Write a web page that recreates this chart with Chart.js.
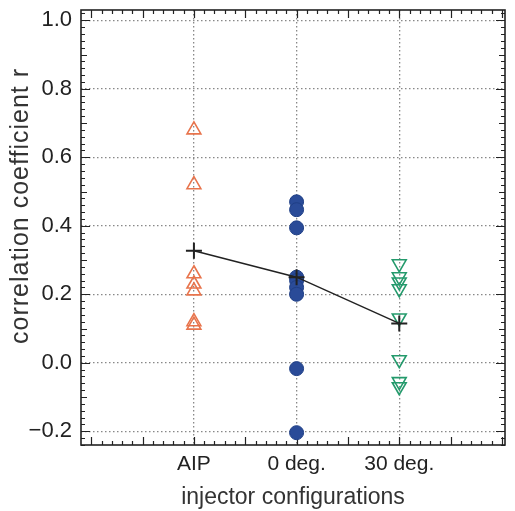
<!DOCTYPE html>
<html>
<head>
<meta charset="utf-8">
<script src="https://cdn.jsdelivr.net/npm/chart.js@4/dist/chart.umd.min.js"></script>
<style>
  html, body { margin: 0; padding: 0; background: #fff; }
  #wrap { width: 515px; height: 511px; }
</style>
</head>
<body>
<div id="wrap"><canvas id="grafico"></canvas></div>
<script>
// categorias no eixo x (posicoes 1, 2, 3)
const configs = ["AIP", "0 deg.", "30 deg."];

// valores
const aipValores = [0.68, 0.52, 0.26, 0.23, 0.21, 0.12, 0.11];
const zeroValores = [0.47, 0.447, 0.394, 0.25, 0.24, 0.22, 0.20, -0.017, -0.204];
const trintaValores = [0.289, 0.251, 0.236, 0.216, 0.131, 0.009, -0.055, -0.07];
const medias = [0.327, 0.25, 0.115];

const yTicks = [-0.2, 0.0, 0.2, 0.4, 0.6, 0.8, 1.0];
const yTitulo = "correlation coefficient r";
const xTitulo = "injector configurations";

const pts = (pos, arr) => arr.map(v => ({ x: pos, y: v }));

// moldura + marcas pequenas para dentro (em todos os lados)
const moldura = {
  id: "moldura",
  beforeDatasetsDraw(chart) {
    const { ctx, chartArea: a, scales } = chart;
    const xs = scales.x, ys = scales.y;
    ctx.save();
    ctx.strokeStyle = "#222";
    ctx.lineWidth = 1.2;
    ctx.beginPath();
    // eixo y: a cada 0.02, maior a cada 0.1 e 0.2
    for (let i = -12; i <= 51; i++) {
      const v = i * 0.02;
      if (v < ys.min || v > ys.max) continue;
      const y = Math.round(ys.getPixelForValue(v)) + 0.5;
      let len = 4;
      if (i % 10 === 0) len = 9; else if (i % 5 === 0) len = 6;
      ctx.moveTo(a.left, y); ctx.lineTo(a.left + len, y);
      ctx.moveTo(a.right, y); ctx.lineTo(a.right - len, y);
    }
    // eixo x: a cada 0.1, maior a cada 0.5
    for (let i = 0; i <= 40; i++) {
      const v = i * 0.1;
      if (v < xs.min || v > xs.max) continue;
      const x = Math.round(xs.getPixelForValue(v)) + 0.5;
      const len = (i % 5 === 0) ? 8 : 4;
      ctx.moveTo(x, a.bottom); ctx.lineTo(x, a.bottom - len);
      ctx.moveTo(x, a.top); ctx.lineTo(x, a.top + len);
    }
    ctx.stroke();
    ctx.lineWidth = 1.6;
    ctx.strokeRect(a.left, a.top, a.right - a.left, a.bottom - a.top);
    ctx.restore();
  },
  afterDraw(chart) {
    // titulo do eixo y
    const { ctx } = chart;
    ctx.save();
    ctx.translate(21, 206);
    ctx.rotate(-Math.PI / 2);
    ctx.font = "25px 'Liberation Sans', Arial, sans-serif";
    ctx.letterSpacing = "1px";
    ctx.fillStyle = "#333";
    ctx.textAlign = "center";
    ctx.textBaseline = "middle";
    ctx.fillText(yTitulo, 0, 0);
    ctx.restore();
  }
};

const pontilhado = {
  color: "#888",
  lineWidth: 1.3,
  drawTicks: false
};
const semBorda = { display: false, dash: [1.5, 2.5] };

new Chart(document.getElementById("grafico"), {
  type: "scatter",
  data: {
    datasets: [
      {
        label: "media",
        data: medias.map((v, i) => ({ x: i + 1, y: v })),
        showLine: true,
        borderColor: "#222",
        borderWidth: 1.5,
        pointStyle: "cross",
        pointRadius: 8,
        pointBorderWidth: 2,
        pointBorderColor: "#222",
        order: 0
      },
      {
        label: configs[0],
        data: pts(1, aipValores),
        pointStyle: "triangle",
        pointRadius: 8,
        pointBorderWidth: 1.6,
        pointBorderColor: "#e8744c",
        pointBackgroundColor: "rgba(0,0,0,0)",
        order: 1
      },
      {
        label: configs[1],
        data: pts(2, zeroValores),
        pointStyle: "circle",
        pointRadius: 7,
        pointBorderWidth: 1,
        pointBorderColor: "#1f3f86",
        pointBackgroundColor: "#2a4b98",
        order: 1
      },
      {
        label: configs[2],
        data: pts(3, trintaValores),
        pointStyle: "triangle",
        rotation: 180,
        pointRadius: 8,
        pointBorderWidth: 1.6,
        pointBorderColor: "#249a6c",
        pointBackgroundColor: "rgba(0,0,0,0)",
        order: 1
      }
    ]
  },
  options: {
    responsive: true,
    maintainAspectRatio: false,
    animation: false,
    layout: { padding: { top: 9, right: 10, left: 0, bottom: 0 } },
    plugins: {
      legend: { display: false },
      tooltip: { enabled: false }
    },
    scales: {
      x: {
        type: "linear",
        min: -0.1,
        max: 4.03,
        afterBuildTicks: s => { s.ticks = configs.map((c, i) => ({ value: i + 1 })); },
        afterFit: s => { s.height = 66; s.paddingLeft = 0; s.paddingRight = 0; },
        grid: pontilhado,
        border: semBorda,
        ticks: {
          callback: v => configs[v - 1],
          padding: 7,
          color: "#222",
          font: { family: "'Liberation Sans', Arial, sans-serif", size: 21 }
        },
        title: {
          display: true,
          text: xTitulo,
          color: "#333",
          padding: { top: 4, bottom: 0 },
          font: { family: "'Liberation Sans', Arial, sans-serif", size: 23 }
        }
      },
      y: {
        min: -0.24,
        max: 1.03,
        afterBuildTicks: s => { s.ticks = yTicks.map(v => ({ value: v })); },
        afterFit: s => { s.width = 81; s.paddingTop = 0; s.paddingBottom = 0; },
        grid: pontilhado,
        border: semBorda,
        ticks: {
          callback: v => (v < 0 ? "\u2212" + Math.abs(v).toFixed(1) : v.toFixed(1)),
          padding: 9,
          color: "#222",
          font: { family: "'Liberation Sans', Arial, sans-serif", size: 22 }
        }
      }
    }
  },
  plugins: [moldura]
});
</script>
</body>
</html>
